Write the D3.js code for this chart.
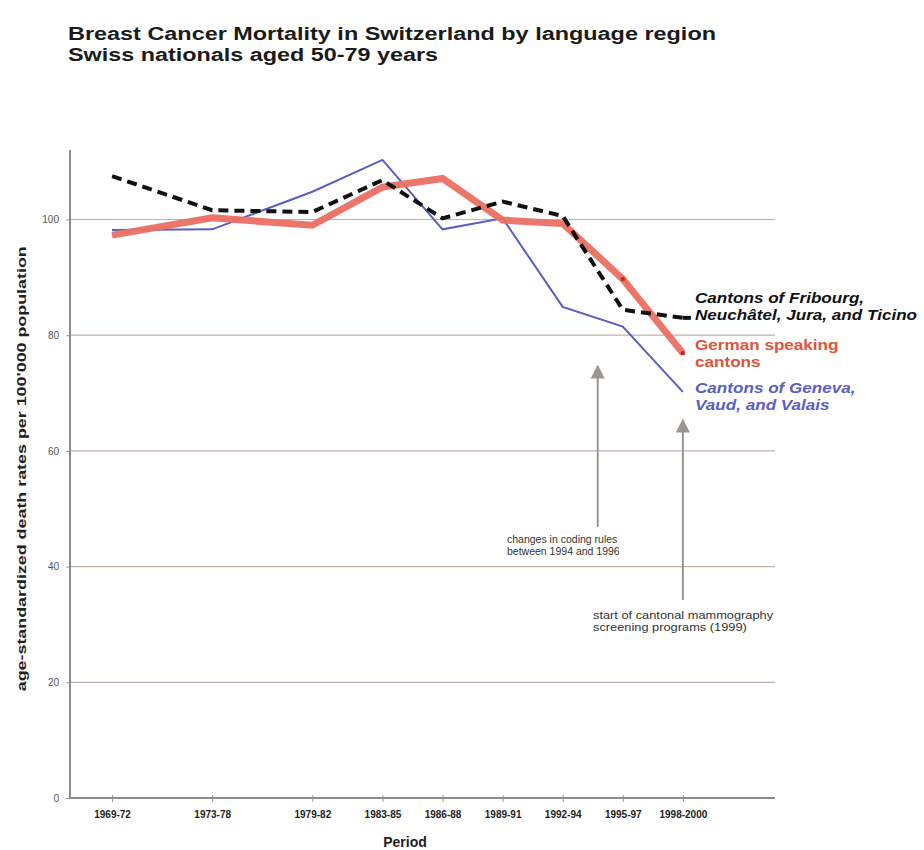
<!DOCTYPE html>
<html>
<head>
<meta charset="utf-8">
<script src="https://cdn.jsdelivr.net/npm/d3@7"></script>
<style>
  html, body { margin: 0; padding: 0; background: #fff; }
  svg { display: block; font-family: "Liberation Sans", Arial, Helvetica, sans-serif; }
</style>
</head>
<body>
<svg id="chart" width="924" height="850"></svg>
<script>
// ---- data ----
const periods = ["1969-72","1973-78","1979-82","1983-85","1986-88","1989-91","1992-94","1995-97","1998-2000"];
const periodMid = [1970.5, 1975.5, 1980.5, 1984, 1987, 1990, 1993, 1996, 1999];
const latinCantons = [107.5, 101.6, 101.3, 106.8, 100.2, 103.1, 100.6, 84.4, 83.0];   // Fribourg, Neuchâtel, Jura, Ticino
const germanCantons = [97.3, 100.3, 99.0, 105.6, 107.1, 99.9, 99.3, 89.7, 76.9];
const westCantons = [98.2, 98.3, 104.8, 110.3, 98.3, 100.2, 84.9, 81.5, 70.2];       // Geneva, Vaud, Valais
const yTicks = [0, 20, 40, 60, 80, 100];
const seriesLabels = [
  ["Cantons of Fribourg,", "Neuchâtel, Jura, and Ticino"],
  ["German speaking", "cantons"],
  ["Cantons of Geneva,", "Vaud, and Valais"]
];
const titleLines = ["Breast Cancer Mortality in Switzerland by language region", "Swiss nationals aged 50-79 years"];
const annotations = [
  { year: 1994.75, lines: ["changes in coding rules", "between 1994 and 1996"] },
  { year: 1999, lines: ["start of cantonal mammography", "screening programs (1999)"] }
];

// ---- layout ----
const svg = d3.select("#chart");
const mLeft = 70, mRight = 775, mTop = 150, mBottom = 798;
const x = d3.scaleLinear().domain([1968.4, 2003.6]).range([mLeft, mRight]);
const y = d3.scaleLinear().domain([0, 100]).range([mBottom, 219.5]);

// title
const titleWidths = [648, 370];
svg.append("g").selectAll("text").data(titleLines).join("text")
  .attr("x", 68).attr("y", (d, i) => 40 + i * 20.5)
  .attr("font-family", "'Liberation Sans Narrow', 'Liberation Sans', Arial, sans-serif")
  .attr("font-size", 18).attr("font-weight", "bold").attr("fill", "#1a1a1a")
  .attr("textLength", (d, i) => titleWidths[i]).attr("lengthAdjust", "spacingAndGlyphs")
  .text(d => d);

// gridlines
svg.append("g").selectAll("line").data(yTicks.filter(d => d > 0)).join("line")
  .attr("x1", mLeft).attr("x2", mRight)
  .attr("y1", d => y(d)).attr("y2", d => y(d))
  .attr("stroke", "#c4afa8").attr("stroke-width", 1.2);

// y axis
const yAxis = svg.append("g").attr("transform", `translate(${mLeft},0)`)
  .call(d3.axisLeft(y).tickValues(yTicks).tickSize(4).tickFormat(d3.format("d")));
yAxis.select(".domain").remove();
yAxis.selectAll(".tick line").attr("stroke", "#999");
yAxis.selectAll(".tick text").attr("font-size", 10).attr("fill", "#555").attr("font-family", "Liberation Sans, Arial").attr("dx", -4);
svg.append("line").attr("x1", mLeft).attr("x2", mLeft).attr("y1", mTop).attr("y2", mBottom)
  .attr("stroke", "#8c8c8c").attr("stroke-width", 2);

// x axis
const xAxis = svg.append("g").attr("transform", `translate(0,${mBottom})`)
  .call(d3.axisBottom(x).tickValues(periodMid).tickSize(4).tickFormat((d, i) => periods[i]));
xAxis.select(".domain").remove();
xAxis.selectAll(".tick line").attr("stroke", "#999").attr("y1", -3);
xAxis.selectAll(".tick text").attr("font-size", 10).attr("font-weight", "bold").attr("fill", "#222")
  .attr("font-family", "Liberation Sans, Arial").attr("dy", "1.3em");
svg.append("line").attr("x1", mLeft - 1).attr("x2", mRight).attr("y1", mBottom).attr("y2", mBottom)
  .attr("stroke", "#8c8c8c").attr("stroke-width", 2);

// axis titles
svg.append("text").attr("x", 405).attr("y", 847).attr("text-anchor", "middle")
  .attr("font-size", 14).attr("font-weight", "bold").attr("fill", "#222").text("Period");
svg.append("text").attr("transform", `translate(26,${(y(0) + y(100)) / 2 - 40}) rotate(-90)`)
  .attr("text-anchor", "middle").attr("font-size", 13).attr("font-weight", "bold").attr("fill", "#222")
  .attr("textLength", 445).attr("lengthAdjust", "spacingAndGlyphs")
  .text("age-standardized death rates per 100'000 population");

// lines
const line = d3.line().x((d, i) => x(periodMid[i])).y(d => y(d));
svg.append("path").datum(westCantons).attr("d", line)
  .attr("fill", "none").attr("stroke", "#5a5ec2").attr("stroke-width", 2).attr("stroke-linejoin", "miter");
svg.append("path").datum(germanCantons).attr("d", line)
  .attr("fill", "none").attr("stroke", "#ec6f62").attr("stroke-width", 7).attr("stroke-linejoin", "miter").attr("stroke-opacity", 0.95);
svg.append("g").selectAll("circle").data(germanCantons.map((v, i) => [periodMid[i], v]).slice(7)).join("circle")
  .attr("cx", d => x(d[0])).attr("cy", d => y(d[1])).attr("r", 2.2).attr("fill", "#c8281e");
svg.append("path").datum(latinCantons).attr("d", line)
  .attr("fill", "none").attr("stroke", "#111").attr("stroke-width", 4).attr("stroke-dasharray", "10,6");
// dashed extension to legend
const lastLatin = latinCantons[latinCantons.length - 1];
svg.append("line").attr("x1", x(periodMid[8])).attr("x2", x(periodMid[8]) + 8)
  .attr("y1", y(lastLatin)).attr("y2", y(lastLatin)).attr("stroke", "#111").attr("stroke-width", 4);

// series labels
const labelColors = ["#111", "#e2543a", "#5a5ec2"];
const labelStyles = ["italic", "normal", "italic"];
const labelY = [303, 350, 393];
seriesLabels.forEach((ls, k) => {
  const t = svg.append("text").attr("x", 695).attr("y", labelY[k])
    .attr("font-size", 15).attr("font-weight", "bold").attr("font-style", labelStyles[k]).attr("fill", labelColors[k]);
  ls.forEach((s, j) => {
    const ts = t.append("tspan").attr("x", 695).attr("dy", j === 0 ? 0 : 17).text(s);
    const w = ts.node().getComputedTextLength();
    ts.attr("textLength", w * 1.14).attr("lengthAdjust", "spacingAndGlyphs");
  });
});

// annotations with arrows
const defs = svg.append("defs");
defs.append("marker").attr("id", "arr").attr("viewBox", "0 0 10 10").attr("refX", 9).attr("refY", 5)
  .attr("markerWidth", 7).attr("markerHeight", 7).attr("orient", "auto-start-reverse")
  .append("path").attr("d", "M0,0 L10,5 L0,10 z").attr("fill", "#9b9591");
const arrowTips = [366, 420];
const arrowBase = [527, 600];
const textX = [507, 593];
const textY = [543, 619];
const textScale = [1.0, 1.22];
annotations.forEach((a, k) => {
  const ax = x(a.year);
  svg.append("line").attr("x1", ax).attr("x2", ax).attr("y1", arrowBase[k]).attr("y2", arrowTips[k])
    .attr("stroke", "#9b9591").attr("stroke-width", 2).attr("marker-end", "url(#arr)");
  const t = svg.append("text").attr("x", textX[k]).attr("y", textY[k])
    .attr("font-size", 10.5).attr("fill", "#333");
  a.lines.forEach((s, j) => {
    const ts = t.append("tspan").attr("x", textX[k]).attr("dy", j === 0 ? 0 : 12).text(s);
    const w = ts.node().getComputedTextLength();
    ts.attr("textLength", w * textScale[k]).attr("lengthAdjust", "spacingAndGlyphs");
  });
});
</script>
</body>
</html>
